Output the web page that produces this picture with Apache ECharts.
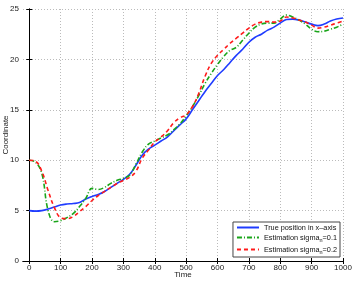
<!DOCTYPE html>
<html><head><meta charset="utf-8">
<script src="https://cdn.jsdelivr.net/npm/echarts@6/dist/echarts.min.js"></script>
<style>html,body{margin:0;padding:0;background:#fff}#c{width:354px;height:281px}</style>
</head><body><div id="c"></div>
<script>
var times = [0,20,40,60,80,100,120,140,160,180,200,220,240,260,280,300,320,340,360,380,400,420,440,460,480,500,520,540,560,580,600,620,640,660,680,700,720,740,760,780,800,820,840,860,880,900,920,940,960,980,1000];
var truePos = [5.0,4.95,5.0,5.15,5.35,5.55,5.65,5.7,5.8,6.15,6.4,6.6,6.9,7.3,7.7,8.1,8.6,9.5,10.5,11.1,11.5,11.9,12.3,12.9,13.5,14.1,15.0,15.9,16.8,17.6,18.4,19.0,19.7,20.4,21.0,21.7,22.2,22.5,22.9,23.2,23.6,23.95,24.0,23.9,23.7,23.5,23.35,23.5,23.8,24.0,24.1];
var est01 = [10.0,9.8,8.7,5.0,3.9,4.0,4.3,4.7,5.4,6.2,7.2,7.1,7.3,7.7,8.0,8.2,8.5,9.6,10.8,11.6,11.9,12.2,12.5,13.0,13.6,14.4,15.3,16.4,17.6,18.6,19.5,20.3,20.9,21.2,21.9,22.6,23.2,23.5,23.6,23.6,24.0,24.4,24.2,23.9,23.5,23.0,22.75,22.8,23.0,23.2,23.5];
var est02 = [10.0,9.9,8.9,7.0,5.3,4.3,4.2,4.4,4.9,5.4,6.0,6.5,6.9,7.3,7.7,8.0,8.3,8.9,10.2,11.0,11.8,12.3,12.9,13.7,14.2,14.5,15.3,16.6,18.3,19.6,20.4,21.0,21.6,22.1,22.6,23.1,23.5,23.7,23.75,23.7,23.8,24.2,24.1,23.9,23.7,23.4,23.1,23.2,23.4,23.6,23.8];
var xTicks = [0,100,200,300,400,500,600,700,800,900,1000];
var yTicks = [0,5,10,15,20,25];
var seriesNames = ['True position in x\u2013axis','Estimation sigma_n=0.1','Estimation sigma_n=0.2'];

function zip(a){ return times.map(function(t,i){return [t,a[i]];}); }
var font = 'Liberation Sans, Arial, sans-serif';
var chart = echarts.init(document.getElementById('c'));
var axisLine = {show:true, lineStyle:{color:'#000', width:1}};
chart.setOption({
  animation:false,
  backgroundColor:'#fff',
  grid:{left:23, right:11, top:9, bottom:20, containLabel:false, outerBoundsMode:'none'},
  xAxis:[{
    type:'value', min:-20, max:1000, position:'bottom',
    axisLine:axisLine,
    axisTick:{inside:true, length:3, customValues:xTicks, lineStyle:{color:'#000'}},
    axisLabel:{customValues:xTicks, fontSize:8, color:'#222', fontFamily:font, margin:3,
      formatter:function(v){return String(v);}},
    splitLine:{show:true, lineStyle:{color:'#bbb', type:[1,2], width:1}},
    name:'Time', nameLocation:'middle', nameGap:10, nameMoveOverlap:false,
    nameTextStyle:{fontSize:8, color:'#222', fontFamily:font}
  },{
    type:'value', min:-20, max:1000, position:'top',
    axisLine:axisLine,
    axisTick:{inside:true, length:3, customValues:xTicks, lineStyle:{color:'#000'}},
    axisLabel:{show:false}, splitLine:{show:false}
  }],
  yAxis:[{
    type:'value', min:0, max:25, interval:5, position:'left',
    axisLine:axisLine,
    axisTick:{inside:true, length:3, lineStyle:{color:'#000'}},
    axisLabel:{fontSize:8, color:'#222', fontFamily:font, margin:4},
    splitLine:{show:true, lineStyle:{color:'#bbb', type:[1,2], width:1}},
    name:'Coordinate', nameLocation:'middle', nameGap:13, nameMoveOverlap:false,
    nameTextStyle:{fontSize:8, color:'#222', fontFamily:font}
  },{
    type:'value', min:0, max:25, interval:5, position:'right',
    axisLine:axisLine,
    axisTick:{inside:true, length:3, lineStyle:{color:'#000'}},
    axisLabel:{show:false}, splitLine:{show:false}
  }],
  legend:{
    right:14, bottom:24, orient:'vertical', itemGap:3, itemWidth:22, itemHeight:8, itemTextGap:3,
    backgroundColor:'#fff', borderColor:'#444', borderWidth:1, padding:[2,3,2,3],
    itemStyle:{opacity:0},
    textStyle:{fontSize:7.3, color:'#111', fontFamily:font,
      rich:{sub:{fontSize:5.5, color:'#111', fontFamily:font, padding:[5,0,0,0]}}},
    formatter:function(name){ return name.replace('_n','{sub|n}'); },
    data:seriesNames
  },
  series:[
    {name:seriesNames[0], type:'line', data:zip(truePos), smooth:0.4, symbol:'none',
     lineStyle:{color:'#1f3cff', width:1.6}, itemStyle:{color:'#1f3cff'}},
    {name:seriesNames[1], type:'line', data:zip(est01), smooth:0.4, symbol:'none',
     lineStyle:{color:'#1aa51a', width:1.6, type:[5,2,1,2]}, itemStyle:{color:'#1aa51a'}},
    {name:seriesNames[2], type:'line', data:zip(est02), smooth:0.4, symbol:'none',
     lineStyle:{color:'#ff1a1a', width:1.6, type:[4,3]}, itemStyle:{color:'#ff1a1a'}}
  ]
});
</script></body></html>
